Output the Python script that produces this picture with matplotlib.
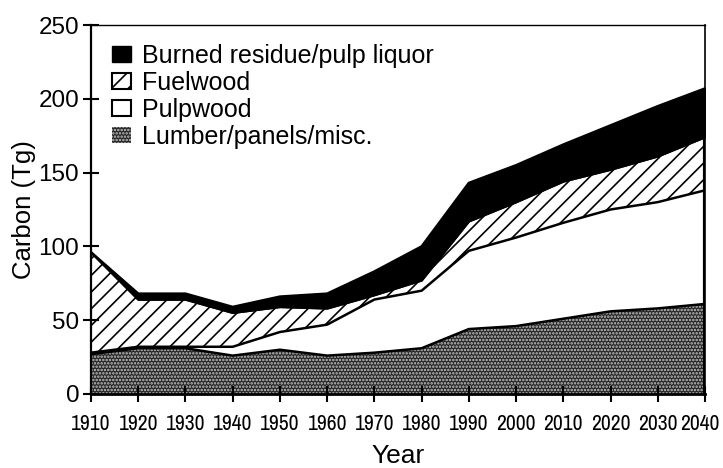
import numpy as np
import matplotlib.pyplot as plt
from matplotlib.patches import Patch
from matplotlib import font_manager
from matplotlib.transforms import ScaledTranslation

years = [1910, 1920, 1930, 1940, 1950, 1960, 1970, 1980, 1990, 2000, 2010, 2020, 2030, 2040]
# carbon per product class (Tg), bottom to top of the stack
lumber = [27, 31, 31, 26, 30, 26, 28, 31, 44, 46, 51, 56, 58, 61]
pulpwood = [1, 1, 1, 6, 12, 21, 36, 39, 53, 60, 65, 69, 72, 77]
fuelwood = [68, 32, 32, 23, 17, 11, 3, 7, 20, 24, 28, 27, 31, 36]
burned = [0, 4, 4, 4, 7, 10, 16, 23, 26, 25, 25, 30, 34, 33]

labels = ["Burned residue/pulp liquor", "Fuelwood", "Pulpwood", "Lumber/panels/misc."]
xticks = list(range(1910, 2041, 10))
yticks = [0, 50, 100, 150, 200, 250]

plt.rcParams['font.family'] = ['Liberation Sans', 'DejaVu Sans']
plt.rcParams['hatch.linewidth'] = 1.2

# condensed face for the year labels, if one is installed
narrow = None
for f in font_manager.fontManager.ttflist:
    fn = f.fname.lower()
    if 'narrow' in fn and 'bold' not in fn and 'italic' not in fn:
        narrow = font_manager.FontProperties(fname=f.fname, size=15.5)
        break
if narrow is None:
    for f in font_manager.fontManager.ttflist:
        fn = f.fname.lower()
        if 'dejavusanscondensed.ttf' in fn:
            narrow = font_manager.FontProperties(fname=f.fname, size=12.5)
            break
if narrow is None:
    narrow = font_manager.FontProperties(family='Liberation Sans', size=13)

x = np.array(years)
top1 = np.array(lumber)
top2 = top1 + np.array(pulpwood)
top3 = top2 + np.array(fuelwood)
top4 = top3 + np.array(burned)

fig = plt.figure(figsize=(7.23, 4.68), dpi=100)
ax = fig.add_axes([91/723, 1-394/468, 614/723, 369/468])

# lumber: dark stipple
ax.fill_between(x, 0, top1, facecolor='#262626', edgecolor='#c4c4c4', hatch='.....', linewidth=0)
# pulpwood: white
ax.fill_between(x, top1, top2, facecolor='white', linewidth=0)
# fuelwood: diagonal hatch
ax.fill_between(x, top2, top3, facecolor='white', edgecolor='black', hatch='//', linewidth=0)
# burned: solid black
ax.fill_between(x, top3, top4, facecolor='black', edgecolor='black', linewidth=1)

for t in (top1, top2, top3, top4):
    ax.plot(x, t, color='black', lw=1.8, solid_joinstyle='miter')
ax.vlines(x[-1], 0, top4[-1], color='black', lw=3)

ax.set_xlim(1910, 2040)
ax.set_ylim(0, 250)
ax.set_xticks(xticks)
ax.set_yticks(yticks)
# last year label drawn separately, nudged left so it stays on the canvas
ax.set_xticklabels([str(v) for v in xticks[:-1]] + [''])
for lab in ax.get_xticklabels():
    lab.set_fontproperties(narrow)
off = ScaledTranslation(-5/100, -(5.5 + 9)/72, fig.dpi_scale_trans)
ax.text(xticks[-1], 0, str(xticks[-1]), fontproperties=narrow, ha='center', va='top',
        transform=ax.get_xaxis_transform() + off)
ax.set_yticklabels([str(v) for v in yticks], fontsize=17.5)
ax.tick_params(axis='both', direction='inout', length=11, width=1.5, pad=3)
ax.tick_params(axis='x', pad=9)
for side, w in (('left', 1.6), ('bottom', 2.0), ('right', 1.2), ('top', 1.0)):
    ax.spines[side].set_linewidth(w)

ax.set_xlabel("Year", fontsize=19, labelpad=7)
ax.set_ylabel("Carbon (Tg)", fontsize=18.5, labelpad=2)

handles = [
    Patch(facecolor='black', edgecolor='black'),
    Patch(facecolor='white', edgecolor='black', hatch='//', linewidth=1.5),
    Patch(facecolor='white', edgecolor='black', linewidth=1.5),
    Patch(facecolor='#262626', edgecolor='#c4c4c4', hatch='.....', linewidth=0),
]
ax.legend(handles, labels, loc='upper left', bbox_to_anchor=((112-91)/614, (394-44)/369),
          frameon=False, fontsize=18, handlelength=0.75, handleheight=0.6,
          handletextpad=0.45, labelspacing=0.12, borderpad=0, borderaxespad=0)

fig.savefig('out.png', dpi=100)
